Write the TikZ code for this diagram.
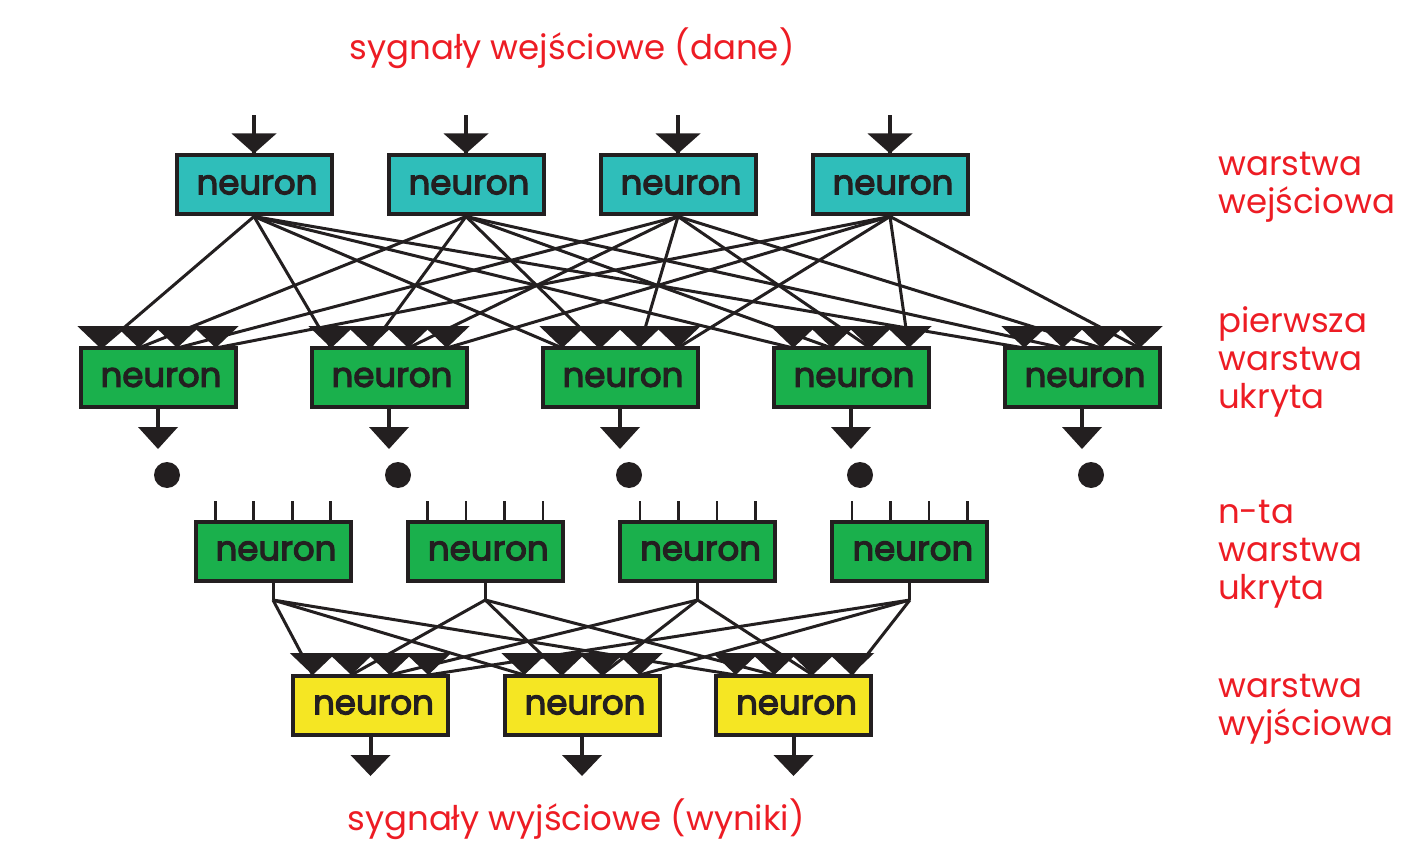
\documentclass[tikz,border=0pt]{standalone}
\usepackage{fontspec}
\setmainfont{Poppins}
\newfontfamily\neurfont[FakeBold=3.5]{Poppins}
\usetikzlibrary{calc}
\definecolor{dk}{RGB}{35,31,32}
\definecolor{rd}{RGB}{237,28,36}
\definecolor{incol}{RGB}{47,190,186}
\definecolor{hidcol}{RGB}{26,176,76}
\definecolor{outcol}{RGB}{245,230,35}
\newcommand\dtri[3]{\fill[dk] ($(#1)+(-#2,-#3)$) -- ($(#1)+(#2,-#3)$) -- (#1) -- cycle;}
\begin{document}
\begin{tikzpicture}[x=1pt,y=-1pt,
  box/.style={draw=dk, line width=4pt, minimum width=155pt, minimum height=59pt, inner sep=0pt,
    font=\neurfont\fontsize{34}{36}\selectfont, text=dk},
  conn/.style={draw=dk, line width=3pt},
  stem/.style={draw=dk, line width=4pt},
  tick/.style={draw=dk, line width=2.6pt},
  title/.style={text=rd, font=\fontsize{34}{38}\selectfont, inner sep=0pt},
  lbl/.style={text=rd, font=\fontsize{34}{38}\selectfont, align=left, anchor=west, inner sep=0pt}]
\useasboundingbox (0,0) rectangle (1423,858);

% nodes
\foreach \k in {1,...,4} {\node[box, fill=incol] (i\k) at ({254+212*(\k-1)},185) {\hspace*{6pt}neuron};}
\foreach \k in {1,...,5} {\node[box, fill=hidcol] (h\k) at ({158+231*(\k-1)},377.5) {\hspace*{6pt}neuron};}
\foreach \k in {1,...,4} {\node[box, fill=hidcol] (n\k) at ({273+212.3*(\k-1)},551) {\hspace*{6pt}neuron};}
\foreach \k in {1,...,3} {\node[box, fill=outcol] (o\k) at ({370.5+211.5*(\k-1)},705) {\hspace*{6pt}neuron};}

% input arrows
\foreach \k in {1,...,4}{
  \coordinate (ia\k) at ($(i\k.north)+(0,-38)$);
  \draw[stem] (ia\k) -- (i\k.north);
  \dtri{i\k.north}{22.5}{20}
}

% tip coordinates
\foreach \h in {1,...,5}{\foreach \i in {1,...,4}{
  \coordinate (h\h-\i) at ($(h\h.north)+({-57.75+38.5*(\i-1)},2)$);}}
\foreach \o in {1,...,3}{\foreach \i in {1,...,4}{
  \coordinate (o\o-\i) at ($(o\o.north)+({-57.75+38.5*(\i-1)},1.5)$);}}

% input -> hidden connections
\foreach \i in {1,...,4}{\foreach \h in {1,...,5}{
  \draw[conn] (i\i.south) -- (h\h-\i);}}
\foreach \h in {1,...,5}{\foreach \i in {1,...,4}{
  \dtri{h\h-\i}{23}{22}}}

% hidden outputs and dots
\foreach \h in {1,...,5}{
  \coordinate (hs\h) at ($(h\h.south)+(0,40)$);
  \draw[stem] (h\h.south) -- ($(h\h.south)+(0,20)$);
  \dtri{hs\h}{20}{22}
  \fill[dk] ($(h\h.south)+(9,66)$) circle[radius=13pt];
}

% n-th layer ticks and junctions
\foreach \n in {1,...,4}{
  \foreach \i in {1,...,4}{
    \draw[tick] ($(n\n.north)+({-57.75+38.5*(\i-1)},0)$) -- ($(n\n.north)+({-57.75+38.5*(\i-1)},-18.5)$);}
  \coordinate (j\n) at ($(n\n.south)+(0,17.5)$);
  \draw[conn] (n\n.south) -- (j\n);
}
\foreach \n in {1,...,4}{\foreach \o in {1,...,3}{
  \draw[conn] (j\n) -- (o\o-\n);}}
\foreach \o in {1,...,3}{\foreach \i in {1,...,4}{
  \dtri{o\o-\i}{23}{22}}}

% output arrows
\foreach \o in {1,...,3}{
  \coordinate (os\o) at ($(o\o.south)+(0,39.5)$);
  \draw[stem] (o\o.south) -- ($(o\o.south)+(0,19)$);
  \dtri{os\o}{20}{21}
}

% texts
\node[title] (tin) at (572,48) {sygnały wejściowe (dane)};
\node[title] (tout) at (576,819) {sygnały wyjściowe (wyniki)};
\node[lbl] (l1) at (1218,187) {warstwa\\wejściowa};
\node[lbl] (l2) at (1218,362) {pierwsza\\warstwa\\ukryta};
\node[lbl] (l3) at (1218,554) {n-ta\\warstwa\\ukryta};
\node[lbl] (l4) at (1218,709) {warstwa\\wyjściowa};
\end{tikzpicture}
\end{document}
